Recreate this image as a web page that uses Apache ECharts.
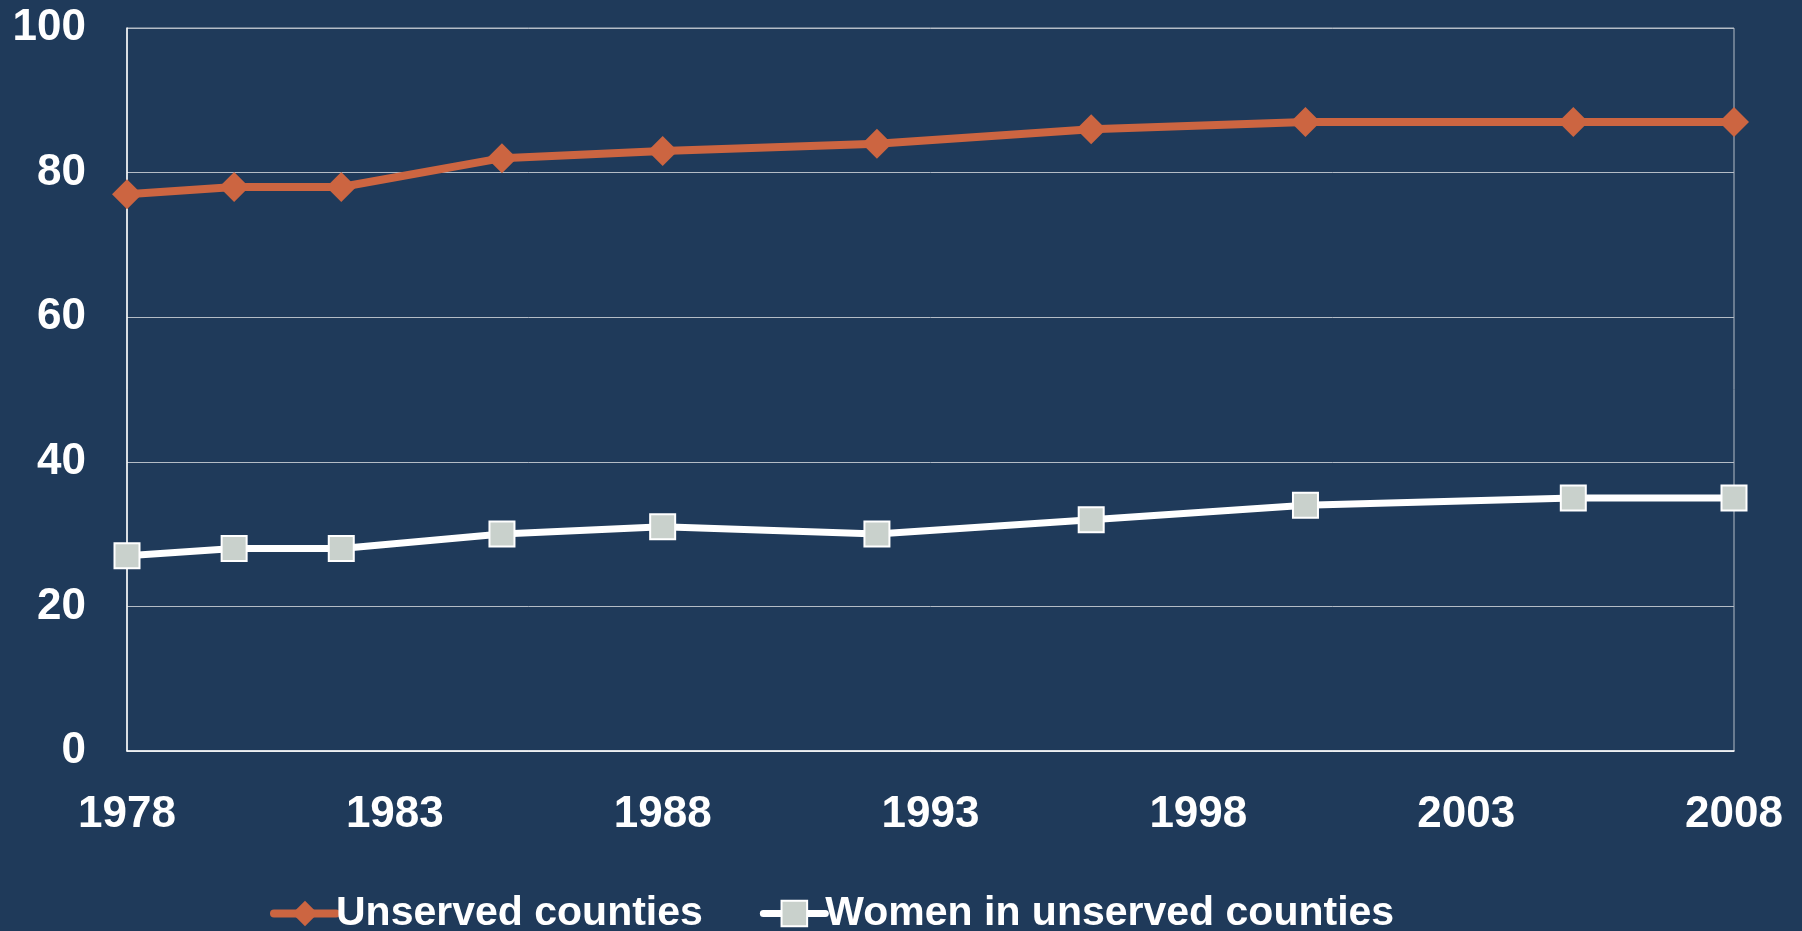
<!DOCTYPE html>
<html>
<head>
<meta charset="utf-8">
<script src="https://cdn.jsdelivr.net/npm/echarts@6/dist/echarts.min.js"></script>
<style>
  html, body { margin: 0; padding: 0; background: #1f3a5a; }
  #chart { width: 1802px; height: 931px; }
</style>
</head>
<body>
<div id="chart"></div>
<script>
var years = [1978, 1980, 1982, 1985, 1988, 1992, 1996, 2000, 2005, 2008];
var unserved = [77, 78, 78, 82, 83, 84, 86, 87, 87, 87];
var women = [27, 28, 28, 30, 31, 30, 32, 34, 35, 35];
var xTicks = [1978, 1983, 1988, 1993, 1998, 2003, 2008];
var yTicks = [0, 20, 40, 60, 80, 100];

var font = '"Liberation Sans", Arial, sans-serif';
var gridColor = '#b4bcc6';
var orange = '#cc6541';

function pairs(xs, ys) {
    return xs.map(function (x, i) { return [x, ys[i]]; });
}

var myChart = echarts.init(document.getElementById('chart'));
var option = {
    backgroundColor: '#1f3a5a',
    animation: false,
    grid: {
        left: 127,
        right: 68,
        top: 28,
        bottom: 180,
        show: true,
        borderColor: gridColor,
        borderWidth: 1
    },
    legend: {
        top: 888,
        left: 265,
        itemWidth: 62,
        itemHeight: 32,
        itemGap: 57,
        textStyle: {
            color: '#fff',
            fontSize: 41,
            fontWeight: 'bold',
            fontFamily: font,
            padding: [0, 0, 0, -5]
        },
        data: [
            { name: 'Unserved counties', lineStyle: { width: 8, cap: 'round' } },
            { name: 'Women in unserved counties', lineStyle: { width: 7, cap: 'round' } }
        ]
    },
    xAxis: {
        type: 'value',
        min: xTicks[0],
        max: xTicks[xTicks.length - 1],
        axisLine: { show: true, lineStyle: { color: '#fff', width: 1.5 } },
        axisTick: { show: false },
        splitLine: { show: false },
        axisLabel: {
            customValues: xTicks,
            formatter: function (v) { return String(v); },
            color: '#fff',
            fontSize: 44,
            fontWeight: 'bold',
            fontFamily: font,
            margin: 42
        }
    },
    yAxis: {
        type: 'value',
        min: yTicks[0],
        max: yTicks[yTicks.length - 1],
        interval: 20,
        axisLine: { show: true, lineStyle: { color: '#fff', width: 1.5 } },
        axisTick: { show: false },
        splitLine: { show: true, lineStyle: { color: gridColor, width: 1 } },
        axisLabel: {
            color: '#fff',
            fontSize: 44,
            fontWeight: 'bold',
            fontFamily: font,
            margin: 41
        }
    },
    series: [
        {
            name: 'Unserved counties',
            type: 'line',
            data: pairs(years, unserved),
            symbol: 'diamond',
            symbolSize: 30,
            lineStyle: { color: orange, width: 8 },
            itemStyle: { color: orange },
            z: 3
        },
        {
            name: 'Women in unserved counties',
            type: 'line',
            data: pairs(years, women),
            symbol: 'rect',
            symbolSize: 25,
            lineStyle: { color: '#ffffff', width: 7 },
            itemStyle: { color: '#c9d1cc', borderColor: '#ffffff', borderWidth: 2 },
            z: 3
        }
    ]
};
myChart.setOption(option);
</script>
</body>
</html>
